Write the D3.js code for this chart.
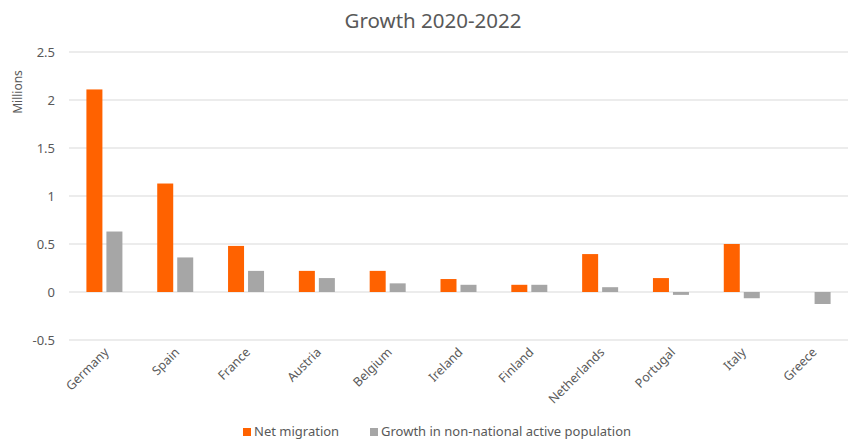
<!DOCTYPE html>
<html lang="en">
<head>
<meta charset="UTF-8">
<title>Growth 2020-2022</title>
<style>
  body { margin: 0; background: #fff; }
  text { font-family: "Noto Sans", "Open Sans", sans-serif; fill: #595959; }
</style>
</head>
<body>
<script src="https://cdn.jsdelivr.net/npm/d3@7"></script>
<script>
// data, millions
var countries = ["Germany", "Spain", "France", "Austria", "Belgium", "Ireland", "Finland", "Netherlands", "Portugal", "Italy", "Greece"];
var netMigration = [2.11, 1.13, 0.48, 0.22, 0.22, 0.135, 0.075, 0.395, 0.145, 0.5, 0];
var nonNational = [0.63, 0.36, 0.22, 0.145, 0.09, 0.075, 0.075, 0.05, -0.03, -0.065, -0.125];
var seriesNames = ["Net migration", "Growth in non-national active population"];
var yTicks = [-0.5, 0, 0.5, 1, 1.5, 2, 2.5];

var w = 849, h = 444;
var margin = {left: 69, right: 1, top: 52, bottom: 104};
var colors = ["#ff6200", "#a6a6a6"];

var svg = d3.select("body").append("svg").attr("width", w).attr("height", h);

var x = d3.scaleBand().domain(countries).range([margin.left, w - margin.right]);
var x1 = d3.scaleBand().domain([0, 1]).range([0, 36]).paddingInner(0.2);
var y = d3.scaleLinear().domain([-0.5, 2.5]).range([h - margin.bottom, margin.top]);

// title
svg.append("text").attr("x", 433).attr("y", 28).attr("text-anchor", "middle")
  .style("font-size", "20.5px").text("Growth 2020-2022");

// grid
svg.append("g").selectAll("line").data(yTicks).enter().append("line")
  .attr("x1", margin.left).attr("x2", w - margin.right)
  .attr("y1", function (d) { return y(d); }).attr("y2", function (d) { return y(d); })
  .attr("stroke", "#d9d9d9").attr("stroke-width", 1);

// y axis labels
var yAxis = d3.axisLeft(y).tickValues(yTicks).tickSize(0).tickPadding(14)
  .tickFormat(function (d) { return String(d); });
var gy = svg.append("g").attr("transform", "translate(" + margin.left + ",0)").call(yAxis);
gy.select(".domain").remove();
gy.selectAll("text").style("font-size", "13px").style("fill", "#595959")
  .style("font-family", "\"Noto Sans\", sans-serif");

svg.append("text").attr("transform", "translate(22,92) rotate(-90)")
  .attr("text-anchor", "middle").style("font-size", "12px").text("Millions");

// bars
var groups = svg.append("g").selectAll("g").data(countries).enter().append("g")
  .attr("transform", function (d) { return "translate(" + (x(d) + x.bandwidth() / 2 - 18) + ",0)"; });

[netMigration, nonNational].forEach(function (vals, s) {
  groups.append("rect")
    .attr("x", x1(s))
    .attr("width", x1.bandwidth())
    .attr("y", function (d, i) { return y(Math.max(0, vals[i])); })
    .attr("height", function (d, i) { return Math.abs(y(vals[i]) - y(0)); })
    .attr("fill", colors[s]);
});

// x labels
svg.append("g").selectAll("text").data(countries).enter().append("text")
  .attr("transform", function (d) {
    return "translate(" + (x(d) + x.bandwidth() / 2 + 5) + ",353) rotate(-45)";
  })
  .attr("text-anchor", "end")
  .style("font-size", "12.5px")
  .text(function (d) { return d; });

// legend
var legendX = [243, 370];
var leg = svg.append("g").selectAll("g").data(seriesNames).enter().append("g")
  .attr("transform", function (d, i) { return "translate(" + legendX[i] + ",436)"; });
leg.append("rect").attr("x", 0).attr("y", -8).attr("width", 8).attr("height", 8)
  .attr("fill", function (d, i) { return colors[i]; });
leg.append("text").attr("x", 11).attr("y", 0).style("font-size", "13px")
  .text(function (d) { return d; });
</script>
</body>
</html>
